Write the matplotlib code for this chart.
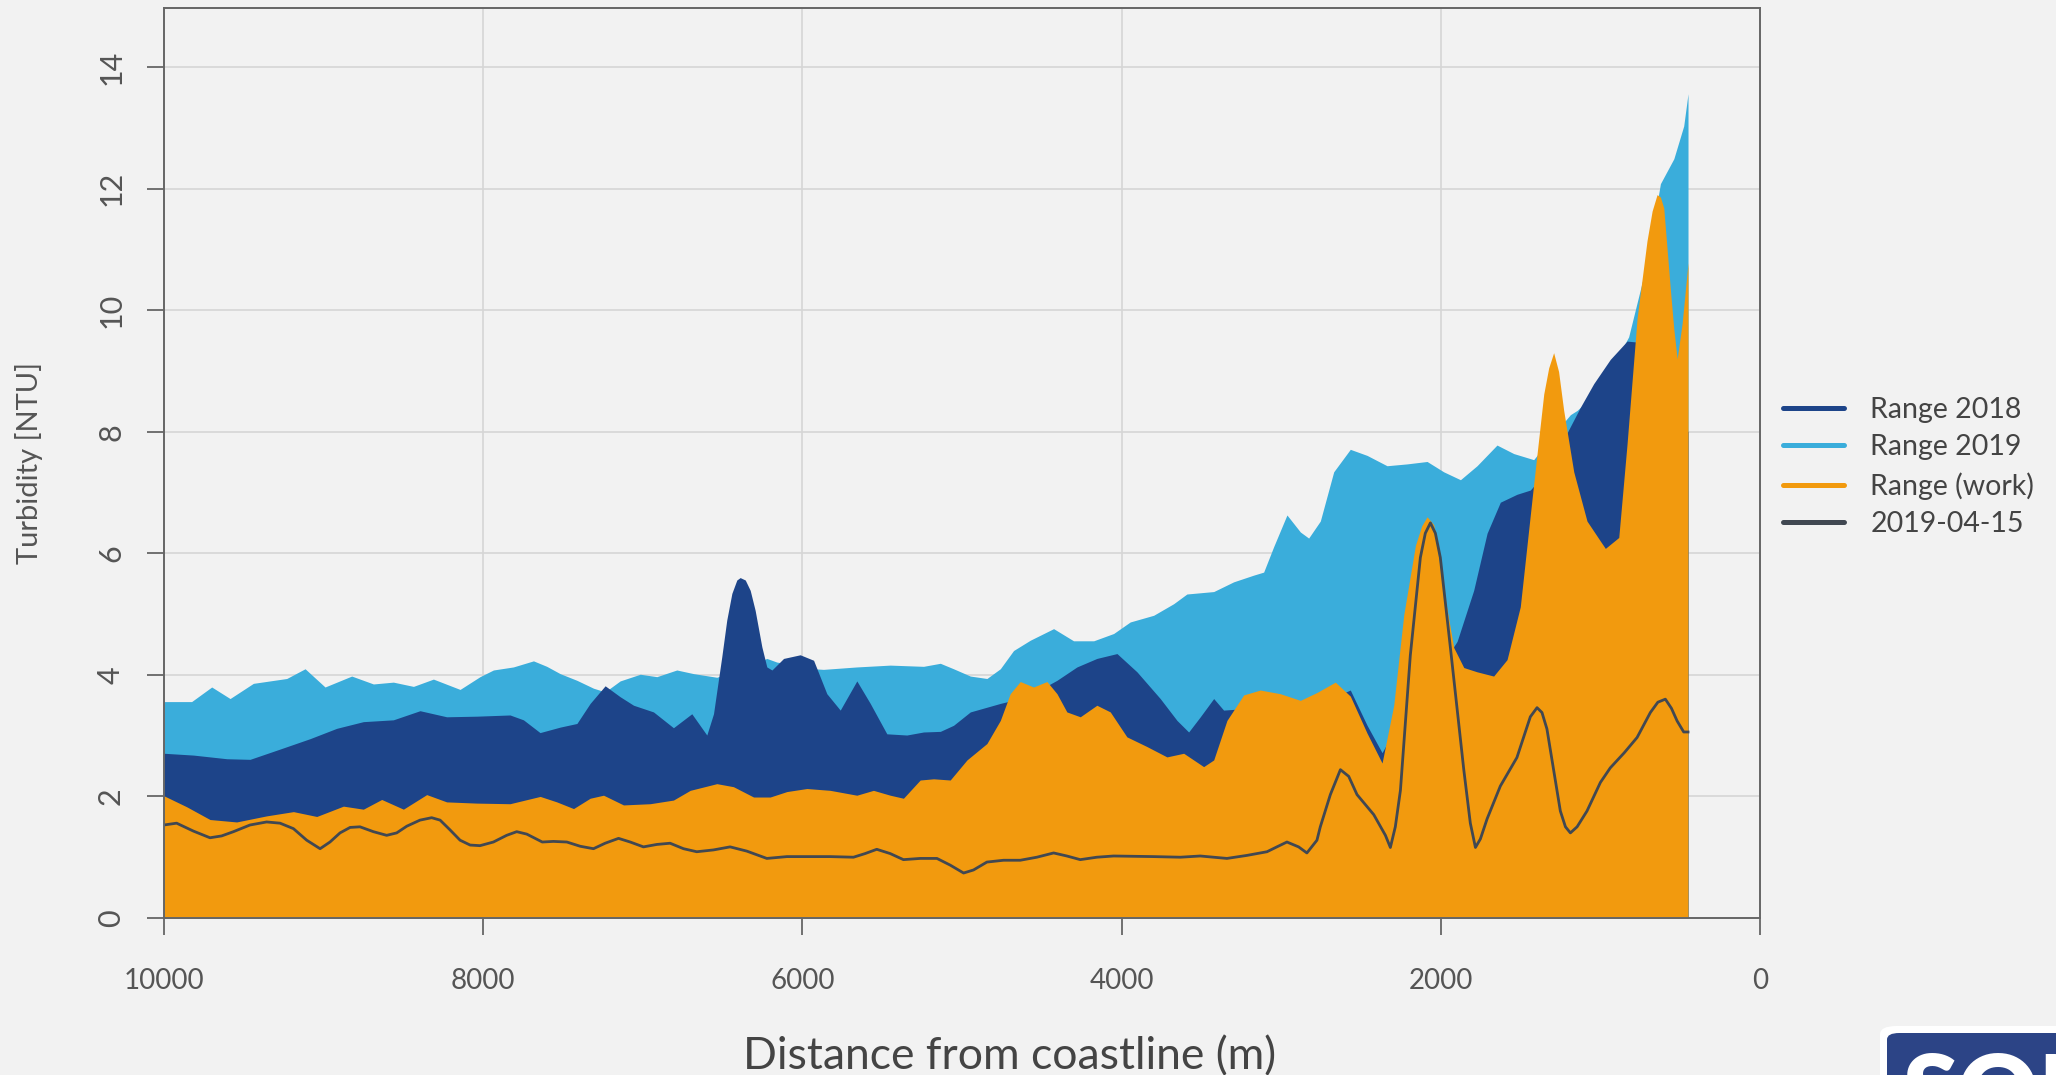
import matplotlib
matplotlib.use('Agg')
from matplotlib import pyplot as plt
from matplotlib.lines import Line2D
from matplotlib.patches import FancyBboxPatch

plt.rcParams['font.family'] = ['Lato', 'DejaVu Sans']

# Range 2019 (upper edge)
dist_2019 = [10000, 9827, 9701, 9586, 9440, 9231, 9116, 8991, 8824, 8688, 8563, 8437, 8312,
             8145, 8020, 7936, 7811, 7685, 7602, 7518, 7413, 7309, 7236, 7142, 7016, 6912,
             6787, 6682, 6536, 6440, 6330, 6223, 6160, 6014, 5930, 5868, 5659, 5450, 5241,
             5136, 5053, 4948, 4844, 4760, 4677, 4572, 4426, 4301, 4175, 4050, 3946, 3799,
             3674, 3591, 3423, 3298, 3173, 3110, 3047, 2964, 2880, 2828, 2755, 2671, 2567,
             2462, 2337, 2212, 2086, 1982, 1877, 1773, 1648, 1543, 1418, 1355, 1293, 1230,
             1188, 1146, 1042, 938, 823, 708, 624, 540, 478, 451]
top_2019 = [3.56, 3.56, 3.80, 3.61, 3.86, 3.94, 4.10, 3.80, 3.98, 3.85, 3.88, 3.81, 3.93,
            3.76, 3.97, 4.08, 4.13, 4.23, 4.14, 4.02, 3.91, 3.78, 3.72, 3.90, 4.01, 3.97,
            4.08, 4.02, 3.96, 4.05, 4.15, 4.27, 4.21, 4.15, 4.10, 4.09, 4.13, 4.16, 4.14,
            4.19, 4.10, 3.98, 3.94, 4.10, 4.40, 4.57, 4.76, 4.56, 4.56, 4.68, 4.87, 4.98,
            5.17, 5.33, 5.37, 5.53, 5.64, 5.69, 6.11, 6.63, 6.35, 6.25, 6.53, 7.34, 7.71,
            7.61, 7.44, 7.47, 7.51, 7.34, 7.21, 7.44, 7.78, 7.64, 7.54, 7.75, 7.95, 8.15,
            8.28, 8.35, 8.60, 9.00, 9.56, 10.78, 12.08, 12.49, 13.03, 13.56]

# Range 2018 (upper edge)
dist_2018 = [10000, 9816, 9607, 9461, 9294, 9085, 8918, 8751, 8563, 8396, 8229, 8041, 7832,
             7748, 7644, 7518, 7413, 7330, 7236, 7142, 7058, 6933, 6808, 6693, 6599, 6557,
             6530, 6505, 6474, 6442, 6411, 6390, 6358, 6327, 6296, 6254, 6223, 6191, 6118,
             6014, 5930, 5847, 5763, 5659, 5575, 5471, 5346, 5241, 5136, 5053, 4948, 4760,
             4650, 4550, 4405, 4280, 4155, 4029, 3904, 3758, 3653, 3580, 3507, 3423, 3361,
             3200, 2900, 2700, 2567, 2462, 2368, 2316, 2200, 2050, 1960, 1898, 1794, 1710,
             1627, 1523, 1439, 1355, 1293, 1230, 1209, 1126, 1042, 938, 833, 749, 700, 600,
             451]
top_2018 = [2.71, 2.68, 2.62, 2.61, 2.76, 2.95, 3.12, 3.23, 3.26, 3.41, 3.31, 3.32, 3.34,
            3.26, 3.05, 3.14, 3.20, 3.53, 3.82, 3.64, 3.50, 3.39, 3.13, 3.36, 3.01, 3.36,
            3.85, 4.30, 4.90, 5.34, 5.56, 5.60, 5.56, 5.39, 5.06, 4.46, 4.13, 4.08, 4.27,
            4.33, 4.24, 3.69, 3.42, 3.90, 3.53, 3.03, 3.01, 3.06, 3.07, 3.17, 3.39, 3.53,
            3.60, 3.70, 3.91, 4.13, 4.27, 4.35, 4.05, 3.61, 3.25, 3.06, 3.31, 3.61, 3.42,
            3.45, 3.50, 3.60, 3.75, 3.17, 2.72, 2.97, 3.30, 3.90, 4.30, 4.55, 5.39, 6.33,
            6.84, 6.97, 7.04, 7.30, 7.60, 7.85, 7.98, 8.40, 8.79, 9.19, 9.49, 9.47, 9.00, 8.50,
            8.00]

# Range (work) (upper edge)
dist_work = [10000, 9858, 9712, 9545, 9357, 9189, 9043, 8876, 8751, 8636, 8500, 8354, 8229,
             8041, 7832, 7643, 7539, 7434, 7330, 7246, 7121, 6954, 6808, 6703, 6536, 6432,
             6306, 6202, 6097, 5972, 5826, 5659, 5555, 5450, 5367, 5262, 5178, 5074, 4969,
             4844, 4760, 4698, 4635, 4552, 4468, 4405, 4343, 4259, 4155, 4071, 3967, 3841,
             3716, 3611, 3486, 3423, 3340, 3235, 3131, 3006, 2880, 2776, 2661, 2567, 2462,
             2368, 2295, 2232, 2159, 2120, 2086, 2044, 1982, 1919, 1856, 1773, 1669, 1585,
             1502, 1418, 1355, 1324, 1293, 1262, 1230, 1167, 1084, 1000, 969, 885, 833, 770,
             708, 676, 645, 624, 603, 561, 540, 519, 488, 451]
top_work = [2.01, 1.83, 1.62, 1.58, 1.68, 1.75, 1.67, 1.84, 1.79, 1.95, 1.79, 2.03, 1.91,
            1.89, 1.88, 2.00, 1.91, 1.80, 1.97, 2.02, 1.86, 1.88, 1.94, 2.10, 2.21, 2.16,
            1.99, 1.99, 2.08, 2.13, 2.10, 2.02, 2.10, 2.02, 1.97, 2.27, 2.29, 2.27, 2.60,
            2.87, 3.25, 3.69, 3.89, 3.80, 3.89, 3.69, 3.39, 3.31, 3.50, 3.39, 2.98, 2.82,
            2.65, 2.71, 2.49, 2.60, 3.25, 3.67, 3.75, 3.69, 3.58, 3.71, 3.88, 3.65, 3.04,
            2.55, 3.50, 4.99, 6.13, 6.45, 6.60, 6.47, 5.39, 4.45, 4.12, 4.05, 3.98, 4.25,
            5.12, 7.14, 8.62, 9.05, 9.30, 8.99, 8.35, 7.34, 6.53, 6.20, 6.08, 6.26, 7.80, 9.87,
            11.14, 11.63, 11.90, 11.86, 11.68, 10.32, 9.69, 9.20, 9.78, 10.78]

# 2019-04-15 profile
dist_day = [10000, 9921, 9816, 9712, 9639, 9565, 9461, 9357, 9273, 9189, 9106, 9022, 8960,
            8897, 8834, 8772, 8688, 8605, 8542, 8479, 8396, 8323, 8270, 8208, 8145, 8082,
            8020, 7936, 7853, 7790, 7727, 7630, 7560, 7476, 7392, 7309, 7236, 7152, 7079,
            6996, 6912, 6829, 6745, 6662, 6557, 6453, 6348, 6223, 6097, 5972, 5826, 5680,
            5607, 5534, 5450, 5367, 5262, 5157, 5074, 4990, 4928, 4844, 4740, 4635, 4531,
            4426, 4343, 4259, 4155, 4050, 3799, 3632, 3507, 3340, 3214, 3089, 3027, 2964,
            2891, 2839, 2776, 2755, 2692, 2629, 2577, 2525, 2420, 2347, 2316, 2285, 2253,
            2191, 2128, 2097, 2065, 2034, 2003, 1940, 1856, 1815, 1783, 1752, 1710, 1627,
            1523, 1439, 1397, 1366, 1335, 1251, 1219, 1188, 1146, 1084, 1000, 938, 850, 770,
            687, 640, 593, 555, 519, 478, 451]
turb_day = [1.53, 1.56, 1.43, 1.32, 1.35, 1.42, 1.53, 1.58, 1.56, 1.47, 1.28, 1.14, 1.25,
            1.40, 1.49, 1.50, 1.42, 1.36, 1.40, 1.51, 1.61, 1.65, 1.61, 1.45, 1.28, 1.20,
            1.19, 1.25, 1.36, 1.42, 1.38, 1.25, 1.26, 1.25, 1.18, 1.14, 1.23, 1.31, 1.25,
            1.17, 1.21, 1.23, 1.14, 1.09, 1.12, 1.17, 1.10, 0.98, 1.01, 1.01, 1.01, 1.00,
            1.06, 1.13, 1.06, 0.96, 0.98, 0.98, 0.87, 0.74, 0.79, 0.92, 0.95, 0.95, 1.00,
            1.07, 1.02, 0.96, 1.00, 1.02, 1.01, 1.00, 1.02, 0.98, 1.03, 1.09, 1.17, 1.25,
            1.17, 1.07, 1.28, 1.50, 2.03, 2.44, 2.33, 2.03, 1.70, 1.36, 1.16, 1.50, 2.10,
            4.32, 5.93, 6.33, 6.50, 6.33, 5.93, 4.45, 2.44, 1.56, 1.16, 1.30, 1.63, 2.17,
            2.64, 3.31, 3.46, 3.38, 3.11, 1.76, 1.50, 1.40, 1.50, 1.76, 2.23, 2.47, 2.72, 2.97,
            3.38, 3.55, 3.60, 3.45, 3.24, 3.06, 3.06]

labels = ['Range 2018', 'Range 2019', 'Range (work)', '2019-04-15']
colors = ['#1d4489', '#3aaddb', '#f29a0e', '#414852']
x_ticks = [10000, 8000, 6000, 4000, 2000, 0]
y_ticks = [0, 2, 4, 6, 8, 10, 12, 14]

bg = '#f2f2f2'
fig = plt.figure(figsize=(20.56, 10.75), dpi=100, facecolor=bg)
ax = fig.add_axes([164 / 2056, 1 - 918 / 1075, (1760 - 164) / 2056, (918 - 8) / 1075])
ax.set_facecolor(bg)

# layers: 2019 at the back, then 2018, then work range, then the day profile
ax.fill_between(dist_2019, 0, top_2019, color=colors[1], lw=0)
ax.fill_between(dist_2018, 0, top_2018, color=colors[0], lw=0)
ax.fill_between(dist_work, 0, top_work, color=colors[2], lw=0)
ax.plot(dist_day, turb_day, color=colors[3], lw=2.0, solid_joinstyle='round')

ax.set_xlim(10000, 0)
ax.set_ylim(0, 14.97)
ax.set_xticks(x_ticks)
ax.set_yticks(y_ticks)
ax.grid(color='#d6d6d6', lw=1.2)
ax.set_axisbelow(True)

for sp in ax.spines.values():
    sp.set_color('#666666')
    sp.set_linewidth(1.4)

ax.tick_params(axis='both', direction='out', length=12, width=1.3, color='#666666',
               labelcolor='#555555')
ax.tick_params(axis='x', pad=24, labelsize=20)
ax.tick_params(axis='y', pad=16, labelsize=22)
for lbl in ax.get_yticklabels():
    lbl.set_rotation(90)
    lbl.set_va('center')

fig.text(29 / 2056, 1 - 463 / 1075, 'Turbidity [NTU]', rotation=90, ha='center', va='center',
         fontsize=21, color='#555555')
fig.text(1010 / 2056, 6 / 1075, 'Distance from coastline (m)', ha='center', va='baseline',
         fontsize=32, color='#444444')

handles = [Line2D([], [], color=c, lw=3.6, solid_capstyle='round') for c in colors]
leg = fig.legend(handles, labels, loc='center left', bbox_to_anchor=(1783 / 2056, 1 - 467 / 1075),
                 frameon=False, fontsize=20.5, handlelength=2.15, handletextpad=0.91,
                 labelspacing=0.41, borderpad=0, borderaxespad=0)
for t in leg.get_texts():
    t.set_color('#444444')

# logo in the corner, cut off by the edge
fig.add_artist(FancyBboxPatch((1880 / 2056, -0.1), 0.2, 0.1 + 49 / 1075,
                              boxstyle='round,pad=0,rounding_size=0.008',
                              transform=fig.transFigure, fc='white', ec='none'))
fig.add_artist(FancyBboxPatch((1887 / 2056, -0.1), 0.2, 0.1 + 42 / 1075,
                              boxstyle='round,pad=0,rounding_size=0.006',
                              transform=fig.transFigure, fc='#2c4486', ec='none'))
fig.text(1903 / 2056, -52 / 1075, 'SON', fontsize=72, fontweight='heavy', color='white',
         ha='left', va='baseline')

fig.savefig('out.png', dpi=100, facecolor=bg)
